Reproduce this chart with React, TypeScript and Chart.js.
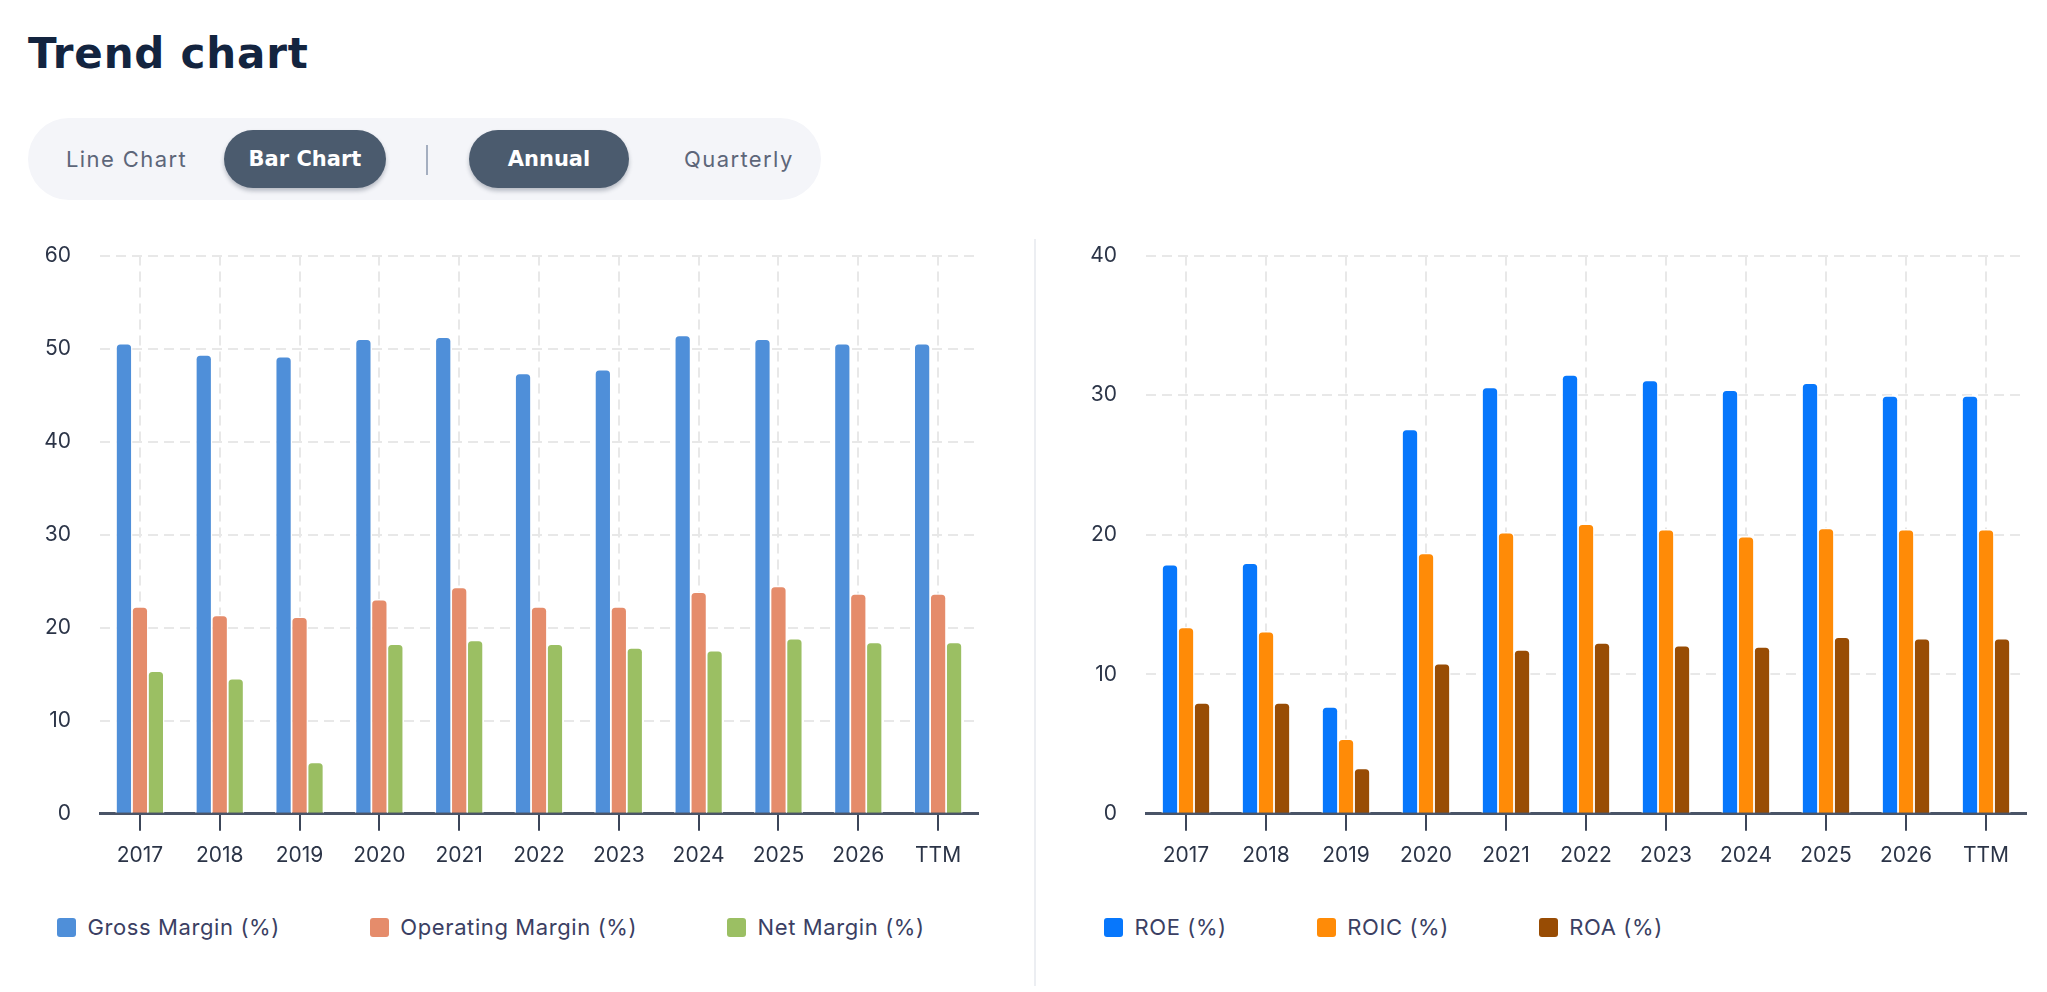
import React, { useEffect, useRef } from 'react';
import Chart from 'chart.js/auto';

// ---- data ----
const years = ['2017', '2018', '2019', '2020', '2021', '2022', '2023', '2024', '2025', '2026', 'TTM'];

const grossMargin = [50.6, 49.4, 49.2, 51.1, 51.3, 47.4, 47.8, 51.5, 51.1, 50.6, 50.6];
const operatingMargin = [22.3, 21.4, 21.2, 23.1, 24.4, 22.3, 22.3, 23.9, 24.5, 23.7, 23.7];
const netMargin = [15.4, 14.6, 5.6, 18.3, 18.7, 18.3, 17.9, 17.6, 18.9, 18.5, 18.5];

const roe = [17.9, 18.0, 7.7, 27.6, 30.6, 31.5, 31.1, 30.4, 30.9, 30.0, 30.0];
const roic = [13.4, 13.1, 5.4, 18.7, 20.2, 20.8, 20.4, 19.9, 20.5, 20.4, 20.4];
const roa = [8.0, 8.0, 3.3, 10.8, 11.8, 12.3, 12.1, 12.0, 12.7, 12.6, 12.6];

const marginAxisMax = 60;
const returnAxisMax = 40;
const axisStep = 10;

const viewToggles = ['Line Chart', 'Bar Chart'];
const periodToggles = ['Annual', 'Quarterly'];

Chart.defaults.font.family = 'Inter';

interface Series {
  label: string;
  data: number[];
  color: string;
}

const marginSeries: Series[] = [
  { label: 'Gross Margin (%)', data: grossMargin, color: '#4f8fd9' },
  { label: 'Operating Margin (%)', data: operatingMargin, color: '#e58c6b' },
  { label: 'Net Margin (%)', data: netMargin, color: '#9bbf63' },
];

const returnSeries: Series[] = [
  { label: 'ROE (%)', data: roe, color: '#0777fc' },
  { label: 'ROIC (%)', data: roic, color: '#ff8b07' },
  { label: 'ROA (%)', data: roa, color: '#984c04' },
];

const GRID = '#e8e8e8';
const TICK_TEXT = '#2b3447';

interface PanelProps {
  series: Series[];
  yMax: number;
  left: number;
  width: number;
  padRight: number;
  legendLeft: number;
}

const BarPanel: React.FC<PanelProps> = ({ series, yMax, left, width, padRight, legendLeft }) => {
  const canvasRef = useRef<HTMLCanvasElement>(null);

  useEffect(() => {
    if (!canvasRef.current) return;
    const chart = new Chart(canvasRef.current, {
      type: 'bar',
      data: {
        labels: years,
        datasets: series.map((s) => ({
          label: s.label,
          data: s.data,
          backgroundColor: s.color,
          borderColor: '#ffffff',
          borderWidth: 1.5,
          borderRadius: 5,
          borderSkipped: 'start',
          categoryPercentage: 0.6,
          barPercentage: 1.08,
        })),
      },
      options: {
        animation: false,
        responsive: true,
        maintainAspectRatio: false,
        layout: { padding: { top: 0, right: padRight, bottom: 0, left: 0 } },
        plugins: {
          legend: { display: false },
          tooltip: { enabled: false },
        },
        scales: {
          x: {
            grid: {
              offset: false,
              color: GRID,
              lineWidth: 2,
              drawTicks: true,
              tickLength: 17,
              tickWidth: 2,
              tickColor: '#3c4659',
              tickBorderDash: [],
            },
            border: { display: true, color: '#4a5467', width: 3, dash: [10, 6] },
            ticks: {
              color: TICK_TEXT,
              font: { size: 21 },
              padding: 12,
              maxRotation: 0,
              autoSkip: false,
            },
          },
          y: {
            min: 0,
            max: yMax,
            afterFit: (scale) => {
              scale.width = 71;
            },
            grid: { color: GRID, lineWidth: 2, drawTicks: false },
            border: { display: false, dash: [10, 6] },
            ticks: {
              stepSize: axisStep,
              padding: 29,
              color: TICK_TEXT,
              font: { size: 21 },
            },
          },
        },
      },
    });
    return () => chart.destroy();
  }, [series, yMax, padRight]);

  return (
    <>
      <div style={{ position: 'absolute', left, top: 214, width, height: 666 }}>
        <canvas ref={canvasRef}></canvas>
      </div>
      <div
        style={{
          position: 'absolute',
          left: legendLeft,
          top: 914,
          height: 26,
          display: 'flex',
          alignItems: 'center',
          gap: 90,
          fontFamily: 'Inter',
          fontSize: 22,
          letterSpacing: 0.6,
          color: '#3b3f63',
          whiteSpace: 'nowrap',
        }}
      >
        {series.map((s) => (
          <div key={s.label} style={{ display: 'flex', alignItems: 'center', gap: 11.5 }}>
            <span style={{ width: 19, height: 19, borderRadius: 3, background: s.color, display: 'inline-block' }} />
            <span>{s.label}</span>
          </div>
        ))}
      </div>
    </>
  );
};

const pillStyle = (active: boolean, left: number, width: number): React.CSSProperties => ({
  position: 'absolute',
  left,
  top: 12,
  width,
  height: 58,
  borderRadius: 29,
  display: 'flex',
  alignItems: 'center',
  justifyContent: active ? 'center' : 'flex-start',
  background: active ? '#4b5b6e' : 'transparent',
  boxShadow: active ? '0 3px 4px rgba(30, 40, 60, 0.28)' : 'none',
  color: active ? '#ffffff' : '#5d6679',
  fontFamily: active ? 'DejaVu Sans' : 'Inter',
  fontWeight: active ? 700 : 400,
  fontSize: active ? 21 : 22,
  letterSpacing: active ? 0 : 1.4,
  whiteSpace: 'nowrap',
});

const App: React.FC = () => {
  return (
    <div style={{ position: 'absolute', inset: 0, overflow: 'hidden', background: '#ffffff' }}>
      <div
        style={{
          position: 'absolute',
          left: 28,
          top: 33,
          fontFamily: 'DejaVu Sans',
          fontWeight: 700,
          fontSize: 42,
          letterSpacing: 0.8,
          lineHeight: '42px',
          color: '#13243f',
          whiteSpace: 'nowrap',
        }}
      >
        Trend chart
      </div>

      <div
        style={{
          position: 'absolute',
          left: 28,
          top: 118,
          width: 793,
          height: 82,
          borderRadius: 41,
          background: '#f4f5f9',
        }}
      >
        <div style={pillStyle(false, 38, 150)}>{viewToggles[0]}</div>
        <div style={pillStyle(true, 196, 162)}>{viewToggles[1]}</div>
        <div style={{ position: 'absolute', left: 398, top: 27, width: 1.5, height: 30, background: '#a4aec0' }} />
        <div style={pillStyle(true, 441, 160)}>{periodToggles[0]}</div>
        <div style={pillStyle(false, 656, 130)}>{periodToggles[1]}</div>
      </div>

      <div style={{ position: 'absolute', left: 1034, top: 239, width: 1.5, height: 747, background: '#eceef2' }} />

      <BarPanel series={marginSeries} yMax={marginAxisMax} left={29} width={975} padRight={26} legendLeft={57} />
      <BarPanel series={returnSeries} yMax={returnAxisMax} left={1075} width={972} padRight={21} legendLeft={1104} />
    </div>
  );
};

export default App;
